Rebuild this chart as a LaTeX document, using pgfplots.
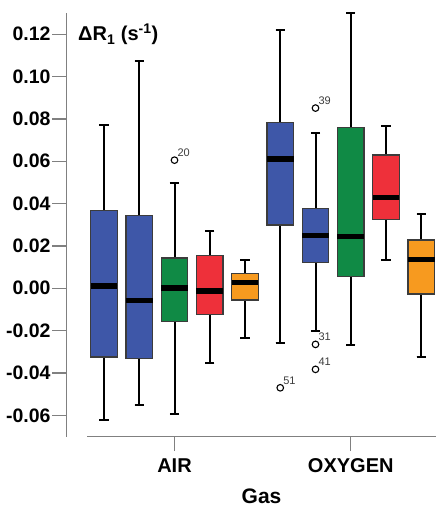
\documentclass[border=0pt]{standalone}
\usepackage{fontspec}
\setmainfont{Liberation Sans}
\usepackage{pgfplots}
\pgfplotsset{compat=1.18}
\usepgfplotslibrary{statistics}
\definecolor{cblue}{RGB}{62,87,168}
\definecolor{cgreen}{RGB}{16,138,69}
\definecolor{cred}{RGB}{238,48,58}
\definecolor{corange}{RGB}{247,154,31}
\definecolor{edge}{RGB}{60,60,60}
\definecolor{axgray}{RGB}{128,128,128}
\pgfplotsset{
  bx/.style={boxplot prepared={#1}},
  boxplot/draw direction=y,
  boxplot/box extend=0.755,
  boxplot/whisker extend=0.26,
  boxplot/every box/.style={draw=edge,line width=1.2pt},
  boxplot/every whisker/.style={black,line width=2pt},
  boxplot/every median/.style={black,line width=5.5pt},
}
\begin{document}
\begin{tikzpicture}
% values in units of 0.01 s^-1
\begin{axis}[name=ax,scale only axis,width=369.3pt,height=423.7pt,
  xmin=-0.058,xmax=10.418,ymin=-7.01,ymax=13.00,clip=false,
  axis y line*=left,axis x line*=bottom,
  x axis line style={draw=none},y axis line style={axgray,line width=1.3pt,-},
  tick align=outside,major tick length=14.5pt,
  every tick/.style={axgray,line width=1.3pt},
  xtick={3,8},xticklabels={AIR,OXYGEN},
  ytick={-6,-4,-2,0,2,4,6,8,10,12},
  yticklabels={-0.06,-0.04,-0.02,0.00,0.02,0.04,0.06,0.08,0.10,0.12},
  yticklabel style={font=\bfseries\fontsize{19.5}{19.5}\selectfont,inner sep=1.5pt},
  xticklabel style={font=\bfseries\fontsize{20}{20}\selectfont,inner sep=0pt,yshift=-7pt},
  minor tick num=0]
% AIR
\addplot[fill=cblue,bx={draw position=1,lower whisker=-6.21,lower quartile=-3.25,median=0.11,upper quartile=3.69,upper whisker=7.72}] coordinates {};
\addplot[fill=cblue,bx={draw position=2,lower whisker=-5.52,lower quartile=-3.33,median=-0.57,upper quartile=3.43,upper whisker=10.71}] coordinates {};
\addplot[fill=cgreen,bx={draw position=3,lower whisker=-5.96,lower quartile=-1.56,median=0.01,upper quartile=1.43,upper whisker=4.98}] coordinates {};
\addplot[fill=cred,bx={draw position=4,lower whisker=-3.53,lower quartile=-1.25,median=-0.14,upper quartile=1.56,upper whisker=2.69}] coordinates {};
\addplot[fill=corange,bx={draw position=5,lower whisker=-2.33,lower quartile=-0.55,median=0.27,upper quartile=0.71,upper whisker=1.35}] coordinates {};
% OXYGEN
\addplot[fill=cblue,bx={draw position=6,lower whisker=-2.57,lower quartile=2.99,median=6.10,upper quartile=7.84,upper whisker=12.19}] coordinates {};
\addplot[fill=cblue,bx={draw position=7,lower whisker=-2.02,lower quartile=1.23,median=2.50,upper quartile=3.78,upper whisker=7.33}] coordinates {};
\addplot[fill=cgreen,bx={draw position=8,lower whisker=-2.66,lower quartile=0.57,median=2.44,upper quartile=7.59,upper whisker=13.00}] coordinates {};
\addplot[fill=cred,bx={draw position=9,lower whisker=1.35,lower quartile=3.26,median=4.28,upper quartile=6.29,upper whisker=7.66}] coordinates {};
\addplot[fill=corange,bx={draw position=10,lower whisker=-3.23,lower quartile=-0.27,median=1.37,upper quartile=2.28,upper whisker=3.50}] coordinates {};
% outliers
\addplot[only marks,mark=o,mark size=3.3pt,mark options={black,line width=1.1pt},
  point meta=explicit symbolic,nodes near coords,
  nodes near coords style={anchor=south west,inner sep=0pt,xshift=2.5pt,yshift=3pt,
    text=edge,font=\fontsize{11}{11}\selectfont}]
  coordinates {(3,6.05)[20] (6,-4.70)[51] (7,8.51)[39] (7,-2.65)[31] (7,-3.83)[41]};
\draw[axgray,line width=1.3pt] (axis cs:0.518,-7.01) -- (axis cs:10.418,-7.01);
\node[anchor=base west,inner sep=0pt,font=\bfseries\fontsize{20}{20}\selectfont]
  at (rel axis cs:0.0306,0.934) {ΔR\textsubscript{1} (s\textsuperscript{-1})};
\node[anchor=base,inner sep=0pt,font=\bfseries\fontsize{21}{21}\selectfont]
  at (axis cs:5.47,-7.01) [yshift=-66.3pt] {Gas};
\end{axis}
\pgfresetboundingbox
\path ([xshift=-66.7pt,yshift=-69.3pt]ax.south west) rectangle ([yshift=13pt]ax.north east);
\end{tikzpicture}
\end{document}
